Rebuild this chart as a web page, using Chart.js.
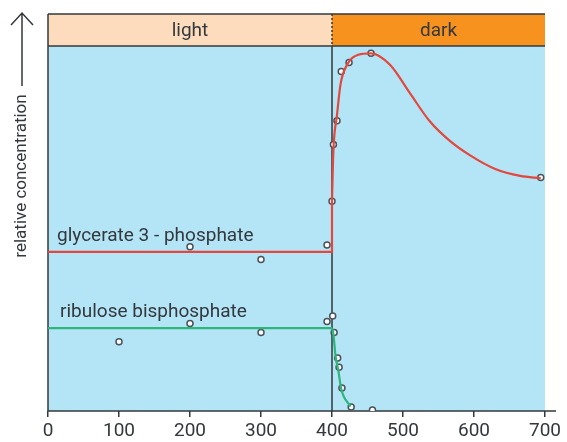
<!DOCTYPE html>
<html>
<head>
<meta charset="utf-8">
<script src="https://cdn.jsdelivr.net/npm/chart.js@4.4.1/dist/chart.umd.min.js"></script>
<style>
  body { margin: 0; background: #fff; }
  #wrap { width: 567px; height: 442px; position: relative; }
</style>
</head>
<body>
<div id="wrap"><canvas id="chart"></canvas></div>
<script>
// measured points
var g3pX = [200, 300, 393, 400, 402, 407, 413, 424, 455, 694];
var g3pY = [45, 41.5, 45.5, 57.5, 73, 79.5, 93, 95.5, 98, 64];
var rubpX = [100, 200, 300, 393, 401, 403, 408, 410, 414, 427, 457];
var rubpY = [19, 24, 21.5, 24.5, 26, 21.5, 14.5, 12, 6.3, 1.1, 0.3];

// traced curves
var g3pLineX = [0, 400, 400, 402, 407, 412, 421, 437, 455, 482, 510, 538, 566, 594, 630, 665, 694];
var g3pLineY = [43.6, 43.6, 57.8, 71.5, 81, 89.5, 94.8, 97.6, 98, 94.8, 87, 79.3, 74, 70.1, 66.3, 64.4, 63.8];
var rubpLineX = [0, 400, 402, 405, 409, 413, 426];
var rubpLineY = [22.7, 22.7, 21, 15, 11, 6, 1.2];

var xTicks = [0, 100, 200, 300, 400, 500, 600, 700];
var phases = ['light', 'dark'];
var seriesNames = ['glycerate 3 - phosphate', 'ribulose bisphosphate'];

var FONT = 'Roboto, "Open Sans", sans-serif';
var INK = '#33383d';

function pts(xs, ys, from, to) {
    var out = [];
    for (var i = from; i < to; i++) out.push({ x: xs[i], y: ys[i] });
    return out;
}

var panels = {
    id: 'panels',
    beforeDraw: function (chart) {
        var ctx = chart.ctx, a = chart.chartArea, x = chart.scales.x;
        var xd = x.getPixelForValue(400);
        var top = 14;
        ctx.save();
        ctx.fillStyle = '#b4e5f7';
        ctx.fillRect(a.left, a.top, a.right - a.left, a.bottom - a.top);
        ctx.fillStyle = '#fddcbd';
        ctx.fillRect(a.left, top, xd - a.left, a.top - top);
        ctx.fillStyle = '#f7921e';
        ctx.fillRect(xd, top, a.right - xd, a.top - top);

        ctx.strokeStyle = INK;
        ctx.lineWidth = 1.5;
        ctx.beginPath();
        ctx.moveTo(a.left, top); ctx.lineTo(a.right, top);
        ctx.moveTo(a.left, a.top); ctx.lineTo(a.right, a.top);
        ctx.moveTo(a.left, top); ctx.lineTo(a.left, a.bottom);
        ctx.moveTo(a.left, a.bottom); ctx.lineTo(556, a.bottom);
        ctx.moveTo(xd, a.top); ctx.lineTo(xd, a.bottom);
        ctx.stroke();
        ctx.setLineDash([2, 2]);
        ctx.beginPath();
        ctx.moveTo(xd, top); ctx.lineTo(xd, a.top);
        ctx.stroke();
        ctx.setLineDash([]);

        ctx.fillStyle = INK;
        ctx.font = '19px ' + FONT;
        ctx.textAlign = 'center';
        ctx.textBaseline = 'middle';
        ctx.fillText(phases[0], (a.left + xd) / 2, (top + a.top) / 2 + 1);
        ctx.fillText(phases[1], (xd + a.right) / 2, (top + a.top) / 2 + 1);

        // y axis arrow + title
        ctx.beginPath();
        ctx.moveTo(22, 86); ctx.lineTo(22, 13);
        ctx.moveTo(11, 25); ctx.lineTo(22, 13); ctx.lineTo(33, 25);
        ctx.stroke();
        ctx.translate(22, 176);
        ctx.rotate(-Math.PI / 2);
        ctx.font = '17px ' + FONT;
        ctx.fillText('relative concentration', 0, 0);
        ctx.restore();
    },
    afterDraw: function (chart) {
        var ctx = chart.ctx;
        ctx.save();
        ctx.fillStyle = INK;
        ctx.font = '19px ' + FONT;
        ctx.textAlign = 'left';
        ctx.textBaseline = 'alphabetic';
        ctx.fillText(seriesNames[0], 57, 241);
        ctx.fillText(seriesNames[1], 60, 317);
        ctx.restore();
    }
};

var lineBase = { type: 'line', pointRadius: 0, borderWidth: 2.2, fill: false };
var dotBase = { type: 'scatter', pointRadius: 3, pointBackgroundColor: '#ffffff', pointBorderColor: '#4b5259', pointBorderWidth: 1.5 };

new Chart(document.getElementById('chart'), {
    data: {
        datasets: [
            Object.assign({ data: pts(g3pLineX, g3pLineY, 0, 3), borderColor: '#e2483d' }, lineBase),
            Object.assign({ data: pts(g3pLineX, g3pLineY, 2, g3pLineX.length), borderColor: '#e2483d', cubicInterpolationMode: 'monotone' }, lineBase),
            Object.assign({ data: pts(rubpLineX, rubpLineY, 0, 2), borderColor: '#2db57a' }, lineBase),
            Object.assign({ data: pts(rubpLineX, rubpLineY, 1, rubpLineX.length), borderColor: '#2db57a', cubicInterpolationMode: 'monotone' }, lineBase),
            Object.assign({ data: pts(g3pX, g3pY, 0, g3pX.length) }, dotBase),
            Object.assign({ data: pts(rubpX, rubpY, 0, rubpX.length) }, dotBase)
        ]
    },
    options: {
        responsive: true,
        maintainAspectRatio: false,
        animation: false,
        layout: { padding: { left: 48, right: 22, top: 46, bottom: 0 } },
        plugins: { legend: { display: false }, tooltip: { enabled: false } },
        scales: {
            x: {
                type: 'linear',
                min: 0,
                max: 700,
                afterFit: function (scale) { scale.height = 31; },
                afterBuildTicks: function (scale) { scale.ticks = xTicks.map(function (v) { return { value: v }; }); },
                border: { display: false },
                grid: { drawOnChartArea: false, drawTicks: true, tickLength: 6, color: INK, lineWidth: 1.5 },
                ticks: { color: INK, font: { family: FONT, size: 19 }, padding: 3, maxRotation: 0 }
            },
            y: { type: 'linear', min: 0, max: 100, display: false }
        }
    },
    plugins: [panels]
});
</script>
</body>
</html>
